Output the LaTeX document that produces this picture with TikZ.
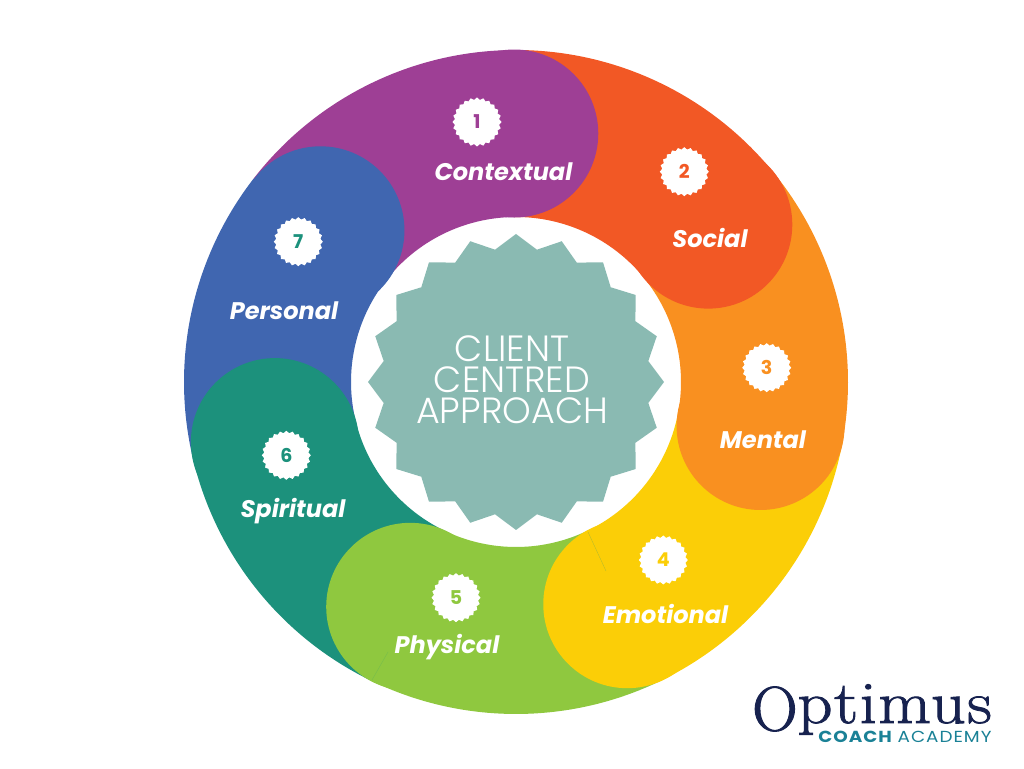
\documentclass[tikz,border=0pt]{standalone}
\usepackage{fontspec}
\usetikzlibrary{shapes.geometric}
\newfontfamily\popfont{Poppins}
\newfontfamily\poplight{Poppins Light}
\newfontfamily\logofont{Latin Modern Roman}[FakeStretch=1.14,FakeBold=1.5,LetterSpace=2.5]
\newfontfamily\logocap{Latin Modern Roman}[FakeBold=1.5]
\definecolor{colA}{HTML}{9E3F95}
\definecolor{colB}{HTML}{F25825}
\definecolor{colC}{HTML}{F99020}
\definecolor{colD}{HTML}{FBCE07}
\definecolor{colE}{HTML}{8FC83F}
\definecolor{colF}{HTML}{1C917C}
\definecolor{colG}{HTML}{4066B0}
\definecolor{starcol}{HTML}{8ABAB2}
\definecolor{logonavy}{HTML}{17224F}
\definecolor{logoteal}{HTML}{1A8196}
\tikzset{
  badge/.style={star,star points=24,star point ratio=1.1,fill=white,inner sep=0pt,minimum size=49pt,font=\popfont\bfseries\fontsize{19}{19}\selectfont},
  seglabel/.style={anchor=base,text=white,inner sep=0pt,font=\popfont\bfseries\itshape\fontsize{24}{24}\selectfont},
  centrestar/.style={star,star points=20,star point ratio=1.105,fill=starcol,inner sep=0pt,minimum size=296pt}
}
\begin{document}
\begin{tikzpicture}[x=1pt,y=1pt]
  \useasboundingbox (0,0) rectangle (1024,768);
  \begin{scope}[shift={(516,386)}]
    \foreach \col/\from/\to in {colA/90.4/142.2,colB/39.3/90.4,colC/-10.2/39.3,colD/-63.4/-10.2,colE/-115.2/-63.4,colF/-166/-115.2,colG/142.2/194}
      \fill[\col] (\from:332) arc (\from:\to:332) -- (\to:165) arc (\to:\from:165) -- cycle;
    \foreach \col/\from/\dist in {colA/90.4/248.5,colB/39.3/248.5,colC/-10.2/248.5,colD/-63.4/248.5,colE/-115.2/248.5,colF/-166/248.5,colG/142.2/247.5}
      \fill[\col] (\from:\dist) circle (84);
  \end{scope}
  \draw[colF,line width=0.3pt,opacity=0.35] (588,236) -- (606,197);
  \draw[colF,line width=0.3pt,opacity=0.25] (388,116) -- (372,88);
  \node[centrestar] (hub) at (516,386) {};
  \node[text=white,align=center,inner sep=0pt,font=\poplight\fontsize{36.5}{31}\selectfont] (hubtext) at (512,388) {CLIENT\\CENTRED\\APPROACH};
  \foreach \i/\col/\bx/\by/\lab/\lx/\ly in {
    1/colA/477/646/Contextual/503.5/587.3,
    2/colB/684.3/596.3/Social/710/520.3,
    3/colC/766.7/400.3/Mental/763/319,
    4/colD/663.3/208/Emotional/665.5/144,
    5/colE/456/170.3/Physical/447/114.7,
    6/colF/286.3/312.7/Spiritual/293/250.3,
    7/colF/298.3/526.3/Personal/284/448}{
    \node[badge,text=\col] (badge\i) at (\bx,\by) {\i};
    \node[seglabel] (label\i) at (\lx,\ly) {\lab};
  }
  \node[anchor=base west,text=logonavy,inner sep=0pt,font=\logofont\fontsize{60}{60}\selectfont] (logoname) at (752,45) {\raisebox{-7.5pt}{\logocap\fontsize{63}{63}\selectfont O}ptimus};
  \node[anchor=base,text=logoteal,inner sep=0pt,font=\popfont\fontsize{16}{16}\selectfont\addfontfeature{FakeStretch=1.15,LetterSpace=6}] (logosub) at (905,25.5) {{\bfseries COACH} ACADEMY};
\end{tikzpicture}
\end{document}
